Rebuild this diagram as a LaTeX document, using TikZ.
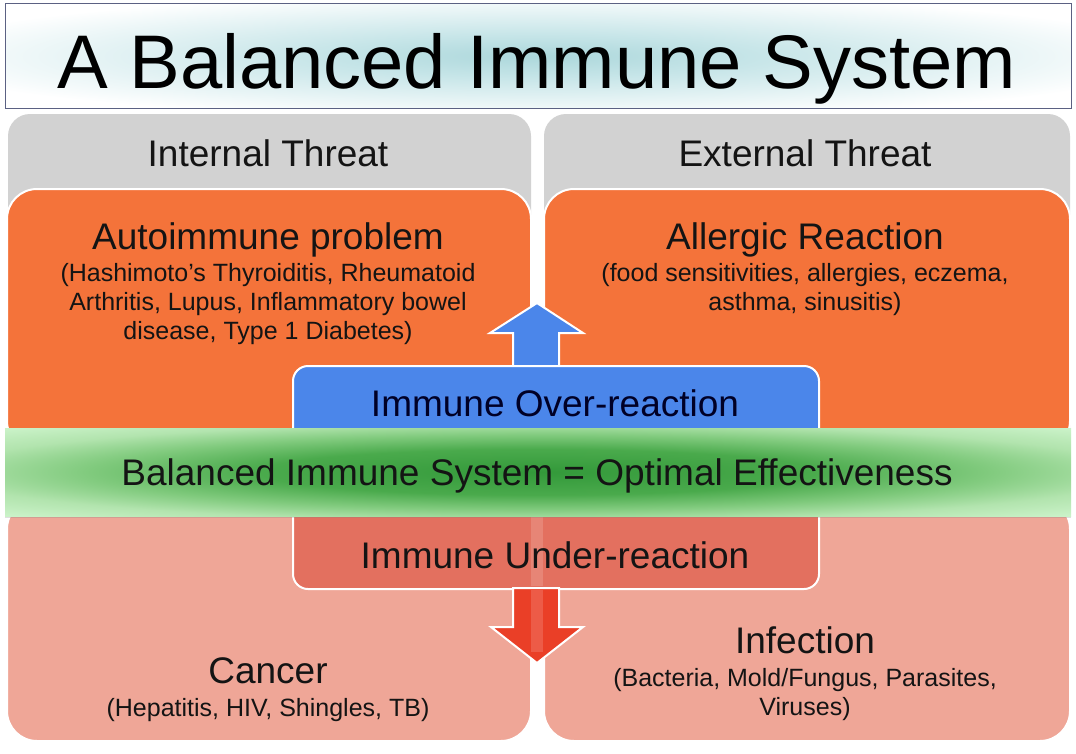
\documentclass[tikz,border=0pt]{standalone}
\usepackage{fontspec}
\setmainfont{Liberation Sans}
\usetikzlibrary{shadows}
\definecolor{grayb}{HTML}{D2D2D2}
\definecolor{orangeb}{HTML}{F4733A}
\definecolor{pinkb}{HTML}{EFA697}
\definecolor{blueb}{HTML}{4B86EA}
\definecolor{redb}{HTML}{E3705F}
\definecolor{arrowred}{HTML}{EA3F27}
\definecolor{greenc}{HTML}{33993A}
\definecolor{greenc2}{HTML}{4AAA4C}
\definecolor{greenm}{HTML}{80CA7D}
\definecolor{greenl}{HTML}{B2E4AE}
\definecolor{greene}{HTML}{CAF2C8}
\definecolor{titleline}{HTML}{5B6183}
\definecolor{titleteal}{HTML}{ACD7DB}
\definecolor{titletealb}{HTML}{C6E5E8}
\definecolor{txt}{HTML}{141414}
\pgfdeclareradialshading{bandshade}{\pgfpoint{0bp}{0bp}}{color(0bp)=(greenc); color(13bp)=(greenc2); color(21bp)=(greenm); color(28bp)=(greenl); color(35bp)=(greene); color(100bp)=(greene)}
\pgfdeclareradialshading{titleshade}{\pgfpoint{0bp}{0bp}}{color(0bp)=(titleteal); color(10bp)=(titletealb); color(30bp)=(white); color(100bp)=(white)}
\tikzset{
  box/.style={rectangle, inner sep=0pt, anchor=north west, draw=white, line width=2pt},
  lbl/.style={font=\fontsize{37}{40}\selectfont, text=txt, anchor=base, inner sep=0pt},
  sub/.style={font=\fontsize{25}{29}\selectfont, text=txt, anchor=base, inner sep=0pt},
  blockarrow/.style={draw=white, line width=2pt, line join=miter},
}
\begin{document}
\begin{tikzpicture}[x=1pt,y=-1pt]
\useasboundingbox[fill=white] (0,0) rectangle (1076,753);
% title
\node[box, draw=titleline, line width=1.2pt, shading=titleshade,
      minimum width=1066pt, minimum height=105pt] (title) at (5,3) {};
\node[font=\fontsize{76}{80}\selectfont, anchor=base, inner sep=0pt] (titletext) at (537,88) {A Balanced Immune System};
% gray threat boxes
\node[box, draw=none, fill=grayb, rounded corners=22pt, minimum width=523pt, minimum height=340pt] (gL) at (7,113) {};
\node[box, draw=none, fill=grayb, rounded corners=22pt, minimum width=526pt, minimum height=340pt] (gR) at (543,113) {};
\node[lbl] (intT) at (268,166) {Internal Threat};
\node[lbl] (extT) at (805,166) {External Threat};
% orange boxes
\node[box, fill=orangeb, rounded corners=30pt, minimum width=524pt, minimum height=262pt] (oL) at (6,188) {};
\node[box, fill=orangeb, rounded corners=30pt, minimum width=526pt, minimum height=262pt] (oR) at (543,188) {};
% pink boxes
\node[box, fill=pinkb, rounded corners=30pt, minimum width=524pt, minimum height=242pt] (pL) at (6,498) {};
\node[box, fill=pinkb, rounded corners=30pt, minimum width=526pt, minimum height=242pt] (pR) at (543,498) {};
% texts in orange boxes
\node[lbl] (auto) at (268,249) {Autoimmune problem};
\node[sub] (auto1) at (268,281) {(Hashimoto’s Thyroiditis, Rheumatoid};
\node[sub] (auto2) at (268,310) {Arthritis, Lupus, Inflammatory bowel};
\node[sub] (auto3) at (268,339) {disease, Type 1 Diabetes)};
\node[lbl] (allg) at (805,249) {Allergic Reaction};
\node[sub] (allg1) at (805,281) {(food sensitivities, allergies, eczema,};
\node[sub] (allg2) at (805,310) {asthma, sinusitis)};
% up arrow
\coordinate (upA) at (537,303);
\draw[blockarrow, fill=blueb] (513,368) -- (513,333) -- (490,333) -- (upA) -- (583,333) -- (559,333) -- (559,368);
% blue / red reaction boxes
\node[box, fill=blueb, rounded corners=15pt, minimum width=526pt, minimum height=90pt] (over) at (292,365) {};
\node[box, fill=redb, rounded corners=15pt, minimum width=526pt, minimum height=95pt] (under) at (292,493) {};
% down arrow
\coordinate (dnA) at (537,663);
\draw[blockarrow, fill=arrowred]
  (513,588) -- (513,627) -- (491,627) -- (dnA) -- (583,627) -- (559,627) -- (559,588) -- cycle;
% gap showing through
\fill[white, opacity=0.15] (531,515) rectangle (543,586);
\fill[white, opacity=0.15] (531,590) rectangle (543,652);
\node[lbl, text=black!85!blue] (overT) at (555,416) {Immune Over-reaction};
\node[lbl] (underT) at (555,568) {Immune Under-reaction};
% green band
\node[box, draw=none, shading=bandshade,
      minimum width=1066pt, minimum height=88pt,
      drop shadow={opacity=0.25, shadow xshift=0pt, shadow yshift=-2pt}] (band) at (4,427) {};
\node[lbl] (bandT) at (537,485) {Balanced Immune System = Optimal Effectiveness};
% bottom texts
\node[lbl] (canc) at (268,683) {Cancer};
\node[sub] (canc1) at (268,716) {(Hepatitis, HIV, Shingles, TB)};
\node[lbl] (inf) at (805,653) {Infection};
\node[sub] (inf1) at (805,686) {(Bacteria, Mold/Fungus, Parasites,};
\node[sub] (inf2) at (805,715) {Viruses)};
\end{tikzpicture}
\end{document}
